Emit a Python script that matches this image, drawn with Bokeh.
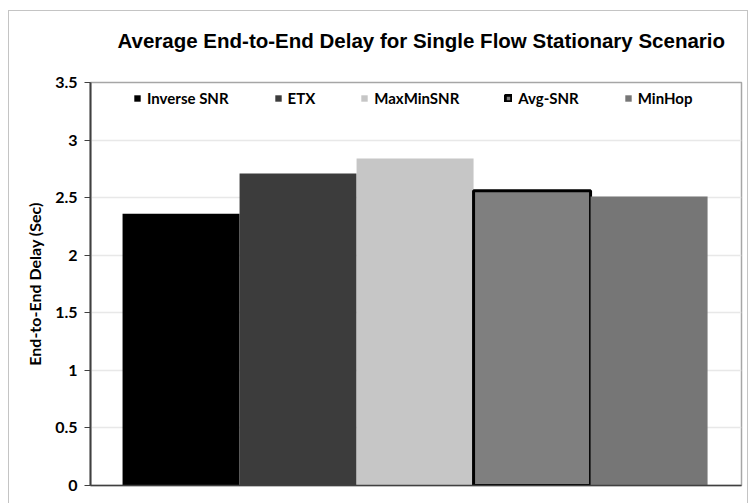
from bokeh.plotting import figure
from bokeh.models import Range1d, Legend, LegendItem, FixedTicker, Title
from bokeh.embed import file_html
from bokeh.resources import INLINE

# ---- data ----
series = ["Inverse SNR", "ETX", "MaxMinSNR", "Avg-SNR", "MinHop"]
delays = [2.36, 2.71, 2.84, 2.56, 2.51]
fill_colors = ["#000000", "#3c3c3c", "#c6c6c6", "#7f7f7f", "#767676"]
line_colors = [None, None, None, "#000000", None]
line_widths = [0, 0, 0, 3, 0]
y_ticks = [0, 0.5, 1, 1.5, 2, 2.5, 3, 3.5]
y_tick_labels = ["0", "0.5", "1", "1.5", "2", "2.5", "3", "3.5"]
title_text = "Average End-to-End Delay for Single Flow Stationary Scenario"
y_label = "End-to-End Delay (Sec)"

p = figure(width=740, height=493, output_backend="svg", toolbar_location=None,
           x_range=Range1d(-0.774, 4.79), y_range=Range1d(0, 3.5),
           min_border_left=81, min_border_right=8, min_border_bottom=19,
           min_border_top=71)
p.styles = {"margin-left": "8px", "margin-top": "10px",
            "border-left": "1px solid #c4c4c4", "border-top": "1px solid #c4c4c4",
            "border-right": "1px solid #c4c4c4"}

title = Title(text=title_text, text_font="Liberation Sans", text_font_size="20.5px",
              text_font_style="bold", text_color="#000000", align="left",
              offset=27, standoff=10,
              padding=dict(top=0, right=0, bottom=26, left=0))
p.add_layout(title, "above")

p.background_fill_color = "white"
p.border_fill_color = "white"
p.outline_line_color = "#a6a6a6"
p.outline_line_width = 1.5

items = []
for i, (name, d, fc, lc, lw) in enumerate(zip(series, delays, fill_colors, line_colors, line_widths)):
    r = p.vbar(x=[i], top=[d], bottom=0, width=1.0, fill_color=fc,
               line_color=lc, line_width=lw)
    items.append(LegendItem(label=name, renderers=[r]))

legend = Legend(items=items, orientation="horizontal", location=(43, 378),
                glyph_width=8, glyph_height=8, label_standoff=6,
                spacing=45, padding=0, margin=0, border_line_color=None,
                background_fill_alpha=0, label_text_font="Lato",
                label_text_font_style="bold", label_text_font_size="15px",
                label_text_color="#000000")
p.add_layout(legend, "center")

# y axis
p.yaxis.ticker = FixedTicker(ticks=y_ticks)
p.yaxis.major_label_overrides = {tk: lb for tk, lb in zip(y_ticks, y_tick_labels)}
p.yaxis.major_label_text_font = "Lato"
p.yaxis.major_label_text_font_style = "bold"
p.yaxis.major_label_text_font_size = "16px"
p.yaxis.major_label_text_color = "#000000"
p.yaxis.axis_line_color = "#404040"
p.yaxis.axis_line_width = 2
p.yaxis.major_tick_line_color = "#404040"
p.yaxis.major_tick_in = 0
p.yaxis.major_tick_out = 6
p.yaxis.minor_tick_line_color = None
p.yaxis.major_label_standoff = 7
p.yaxis.axis_label = y_label
p.yaxis.axis_label_text_font = "Lato"
p.yaxis.axis_label_text_font_style = "bold"
p.yaxis.axis_label_text_font_size = "16px"
p.yaxis.axis_label_text_color = "#000000"
p.yaxis.axis_label_standoff = 8

# bottom x axis: line only, no ticks or labels
p.xaxis.ticker = FixedTicker(ticks=[])
p.xaxis.major_tick_line_color = None
p.xaxis.minor_tick_line_color = None
p.xaxis.axis_line_color = "#404040"
p.xaxis.axis_line_width = 1.5

p.xgrid.grid_line_color = None
p.ygrid.ticker = FixedTicker(ticks=y_ticks)
p.ygrid.grid_line_color = "#e8e8e8"
p.ygrid.grid_line_width = 1.5

open("out.html", "w").write(file_html(p, INLINE))
